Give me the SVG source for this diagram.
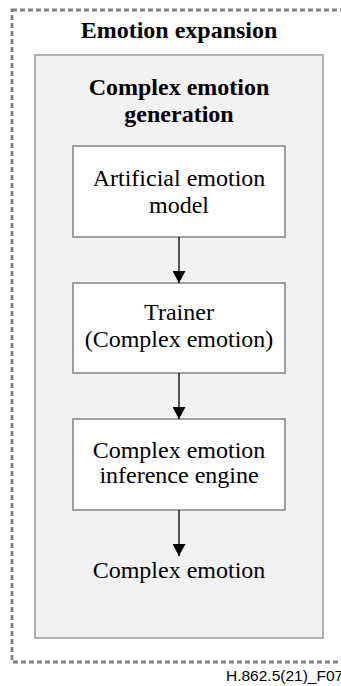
<svg xmlns="http://www.w3.org/2000/svg" width="341" height="686" viewBox="0 0 341 686">
<style>
.t{font-family:"Liberation Serif","Times New Roman",serif;font-size:24px;fill:#000;text-anchor:middle}
.b{font-weight:bold}
.box{fill:#fff;stroke:#808080;stroke-width:1.5}
.c{stroke:#000;stroke-width:1.3;fill:none}
</style>
<defs>
<marker id="ah" markerWidth="13" markerHeight="13" refX="12" refY="6.5" orient="auto" markerUnits="userSpaceOnUse">
<path d="M0,0 L12,6.5 L0,13 z" fill="#000"/>
</marker>
</defs>
<g id="outer">
<rect x="12" y="10" width="345" height="652" fill="none" stroke="#808080" stroke-width="2.8" stroke-dasharray="5,3"/>
<text class="t b" x="179" y="38">Emotion expansion</text>
</g>
<g id="generation">
<rect x="35" y="55" width="288" height="583" fill="#f2f2f2" stroke="#999" stroke-width="1.5"/>
<text class="t b" x="179" y="95">Complex emotion</text>
<text class="t b" x="179" y="122">generation</text>
</g>
<g id="model">
<rect class="box" x="73" y="146" width="212" height="91"/>
<text class="t" x="179" y="186">Artificial emotion</text>
<text class="t" x="179" y="213">model</text>
</g>
<g id="trainer">
<rect class="box" x="73" y="283" width="212" height="90"/>
<text class="t" x="179" y="320">Trainer</text>
<text class="t" x="179" y="347">(Complex emotion)</text>
</g>
<g id="engine">
<rect class="box" x="73" y="419" width="212" height="91"/>
<text class="t" x="179" y="458">Complex emotion</text>
<text class="t" x="179" y="483">inference engine</text>
</g>
<g id="output">
<text class="t" x="179" y="578">Complex emotion</text>
</g>
<g id="connectors">
<line class="c" x1="179" y1="237" x2="179" y2="283" marker-end="url(#ah)"/>
<line class="c" x1="179" y1="373" x2="179" y2="419" marker-end="url(#ah)"/>
<line class="c" x1="179" y1="510" x2="179" y2="556" marker-end="url(#ah)"/>
</g>
<text x="226" y="681" font-family="Liberation Sans,Arial,sans-serif" font-size="15.5" fill="#000">H.862.5(21)_F07</text>
</svg>
